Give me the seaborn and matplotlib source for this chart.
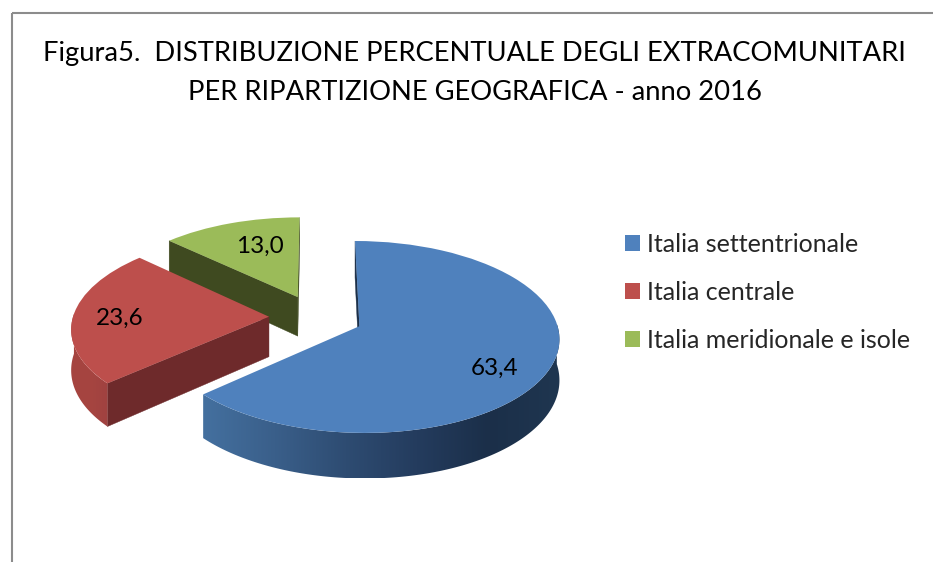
import numpy as np
import matplotlib
matplotlib.use("Agg")
import matplotlib.pyplot as plt
import seaborn as sns
from matplotlib.colors import LinearSegmentedColormap
from matplotlib.patches import Polygon, Rectangle
from matplotlib.transforms import Transform

categories = ["Italia settentrionale", "Italia centrale", "Italia meridionale e isole"]
values = [63.4, 23.6, 13.0]
title_lines = ["Figura5.  DISTRIBUZIONE PERCENTUALE DEGLI EXTRACOMUNITARI",
               "PER RIPARTIZIONE GEOGRAFICA - anno 2016"]

top_colors = ["#4f81bd", "#bd4f4c", "#9bbb59"]
cut_colors = ["#1c3049", "#6e2a2b", "#3f4a20"]
# left to right on screen
rim_colors = [["#44709f", "#3a5f8a", "#2e4c72", "#243c5e", "#1b2f49", "#1f3650"],
              ["#a5443f", "#a64541", "#a04240"],
              ["#6b8040", "#6b8040"]]
label_xy = [(495, 368), (120, 318), (260, 246)]

# fake 3d: pie stays flat in unit coords, this tilts it into pixel coords
CX, CY, RX, RY, K, DEPTH = 316, 317, 196, 92.7, 0.111, 40


class Tilt(Transform):
    input_dims = 2
    output_dims = 2
    is_affine = False

    def transform_non_affine(self, values):
        values = np.asarray(values, dtype=float)
        u, v = values[:, 0], values[:, 1]
        s = 1 + K * v
        return np.column_stack([CX + RX * u / s, CY - RY * v / s])


def project(u, v, z=0.0):
    s = 1 + K * v
    return CX + RX * u / s, CY - (RY * v - z * DEPTH) / s


sns.set_theme(style="white")
plt.rcParams["font.family"] = ["Lato", "DejaVu Sans"]

fig = plt.figure(figsize=(9.33, 5.62), dpi=100)
ax = fig.add_axes([0, 0, 1, 1])

wedges, _ = ax.pie(values, colors=top_colors, startangle=90, counterclock=False,
                   explode=[0.24] * 3, radius=1, wedgeprops={"linewidth": 0})

tilt = Tilt() + ax.transData
for i, w in enumerate(wedges):
    base = [9, 6, 3][i]
    w.set_transform(tilt)
    w.set_zorder(base + 1)
    w.set_clip_on(False)

    cu, cv = w.center
    t1, t2 = np.radians(w.theta1), np.radians(w.theta2)

    # flat cut walls, only where the wall faces the viewer
    t_mid = (t1 + t2) / 2
    mx, my = project(cu + np.cos(t_mid), cv + np.sin(t_mid))
    ax0, ay0 = project(cu, cv)
    bx, by = project(cu, cv, 1)
    for t in (t1, t2):
        eu, ev = cu + np.cos(t), cv + np.sin(t)
        ex, ey = project(eu, ev)
        side_mid = (ex - ax0) * (my - ay0) - (ey - ay0) * (mx - ax0)
        side_low = (ex - ax0) * (by - ay0) - (ey - ay0) * (bx - ax0)
        if side_mid * side_low < 0:
            fx, fy = project(eu, ev, 1)
            ax.fill([ax0, ex, fx, bx], [ay0, ey, fy, by], color=cut_colors[i],
                    linewidth=0.3, zorder=base)

    # outer rim: gradient image clipped to the rim outline
    grid = np.linspace(t1, t2, 300)
    grid = grid[np.sin(grid) < 0.03]
    if len(grid) > 1:
        upper = [project(cu + np.cos(a), cv + np.sin(a)) for a in grid]
        lower = [project(cu + np.cos(a), cv + np.sin(a), 1) for a in grid[::-1]]
        outline = np.array(upper + lower)
        x0, x1 = outline[:, 0].min(), outline[:, 0].max()
        y0, y1 = outline[:, 1].min(), outline[:, 1].max()
        cmap = LinearSegmentedColormap.from_list("rim", rim_colors[i])
        im = ax.imshow(np.linspace(0, 1, 256)[None, :], cmap=cmap, extent=(x0, x1, y1, y0),
                       aspect="auto", zorder=base, interpolation="bilinear")
        rim = Polygon(outline, closed=True, transform=ax.transData, facecolor="none", linewidth=0)
        ax.add_patch(rim)
        im.set_clip_path(rim)

ax.set_aspect("auto")
ax.set_xlim(0, 933)
ax.set_ylim(562, 0)
ax.axis("off")

for v, (x, y) in zip(values, label_xy):
    ax.text(x, y, f"{v:.1f}".replace(".", ","), ha="center", va="center",
            fontsize=17.5, color="black", zorder=20)

ax.text(474.5, 61.5, title_lines[0], ha="center", va="baseline", fontsize=19.75, color="black")
ax.text(475.5, 99.5, title_lines[1], ha="center", va="baseline", fontsize=19.75, color="black")

leg = ax.legend(wedges, categories, loc="upper left", bbox_to_anchor=(625 / 933, 1 - 233 / 562),
                frameon=False, fontsize=18, handlelength=0.6, handleheight=0.6,
                handletextpad=0.28, labelspacing=1.0, borderpad=0, borderaxespad=0)

# chart frame, cropped on the right and at the bottom
ax.add_patch(Rectangle((12, 12.5), 940, 600, fill=False, edgecolor="#8c8c8c", linewidth=1.5))

fig.savefig("out.png", dpi=100, facecolor="white")
